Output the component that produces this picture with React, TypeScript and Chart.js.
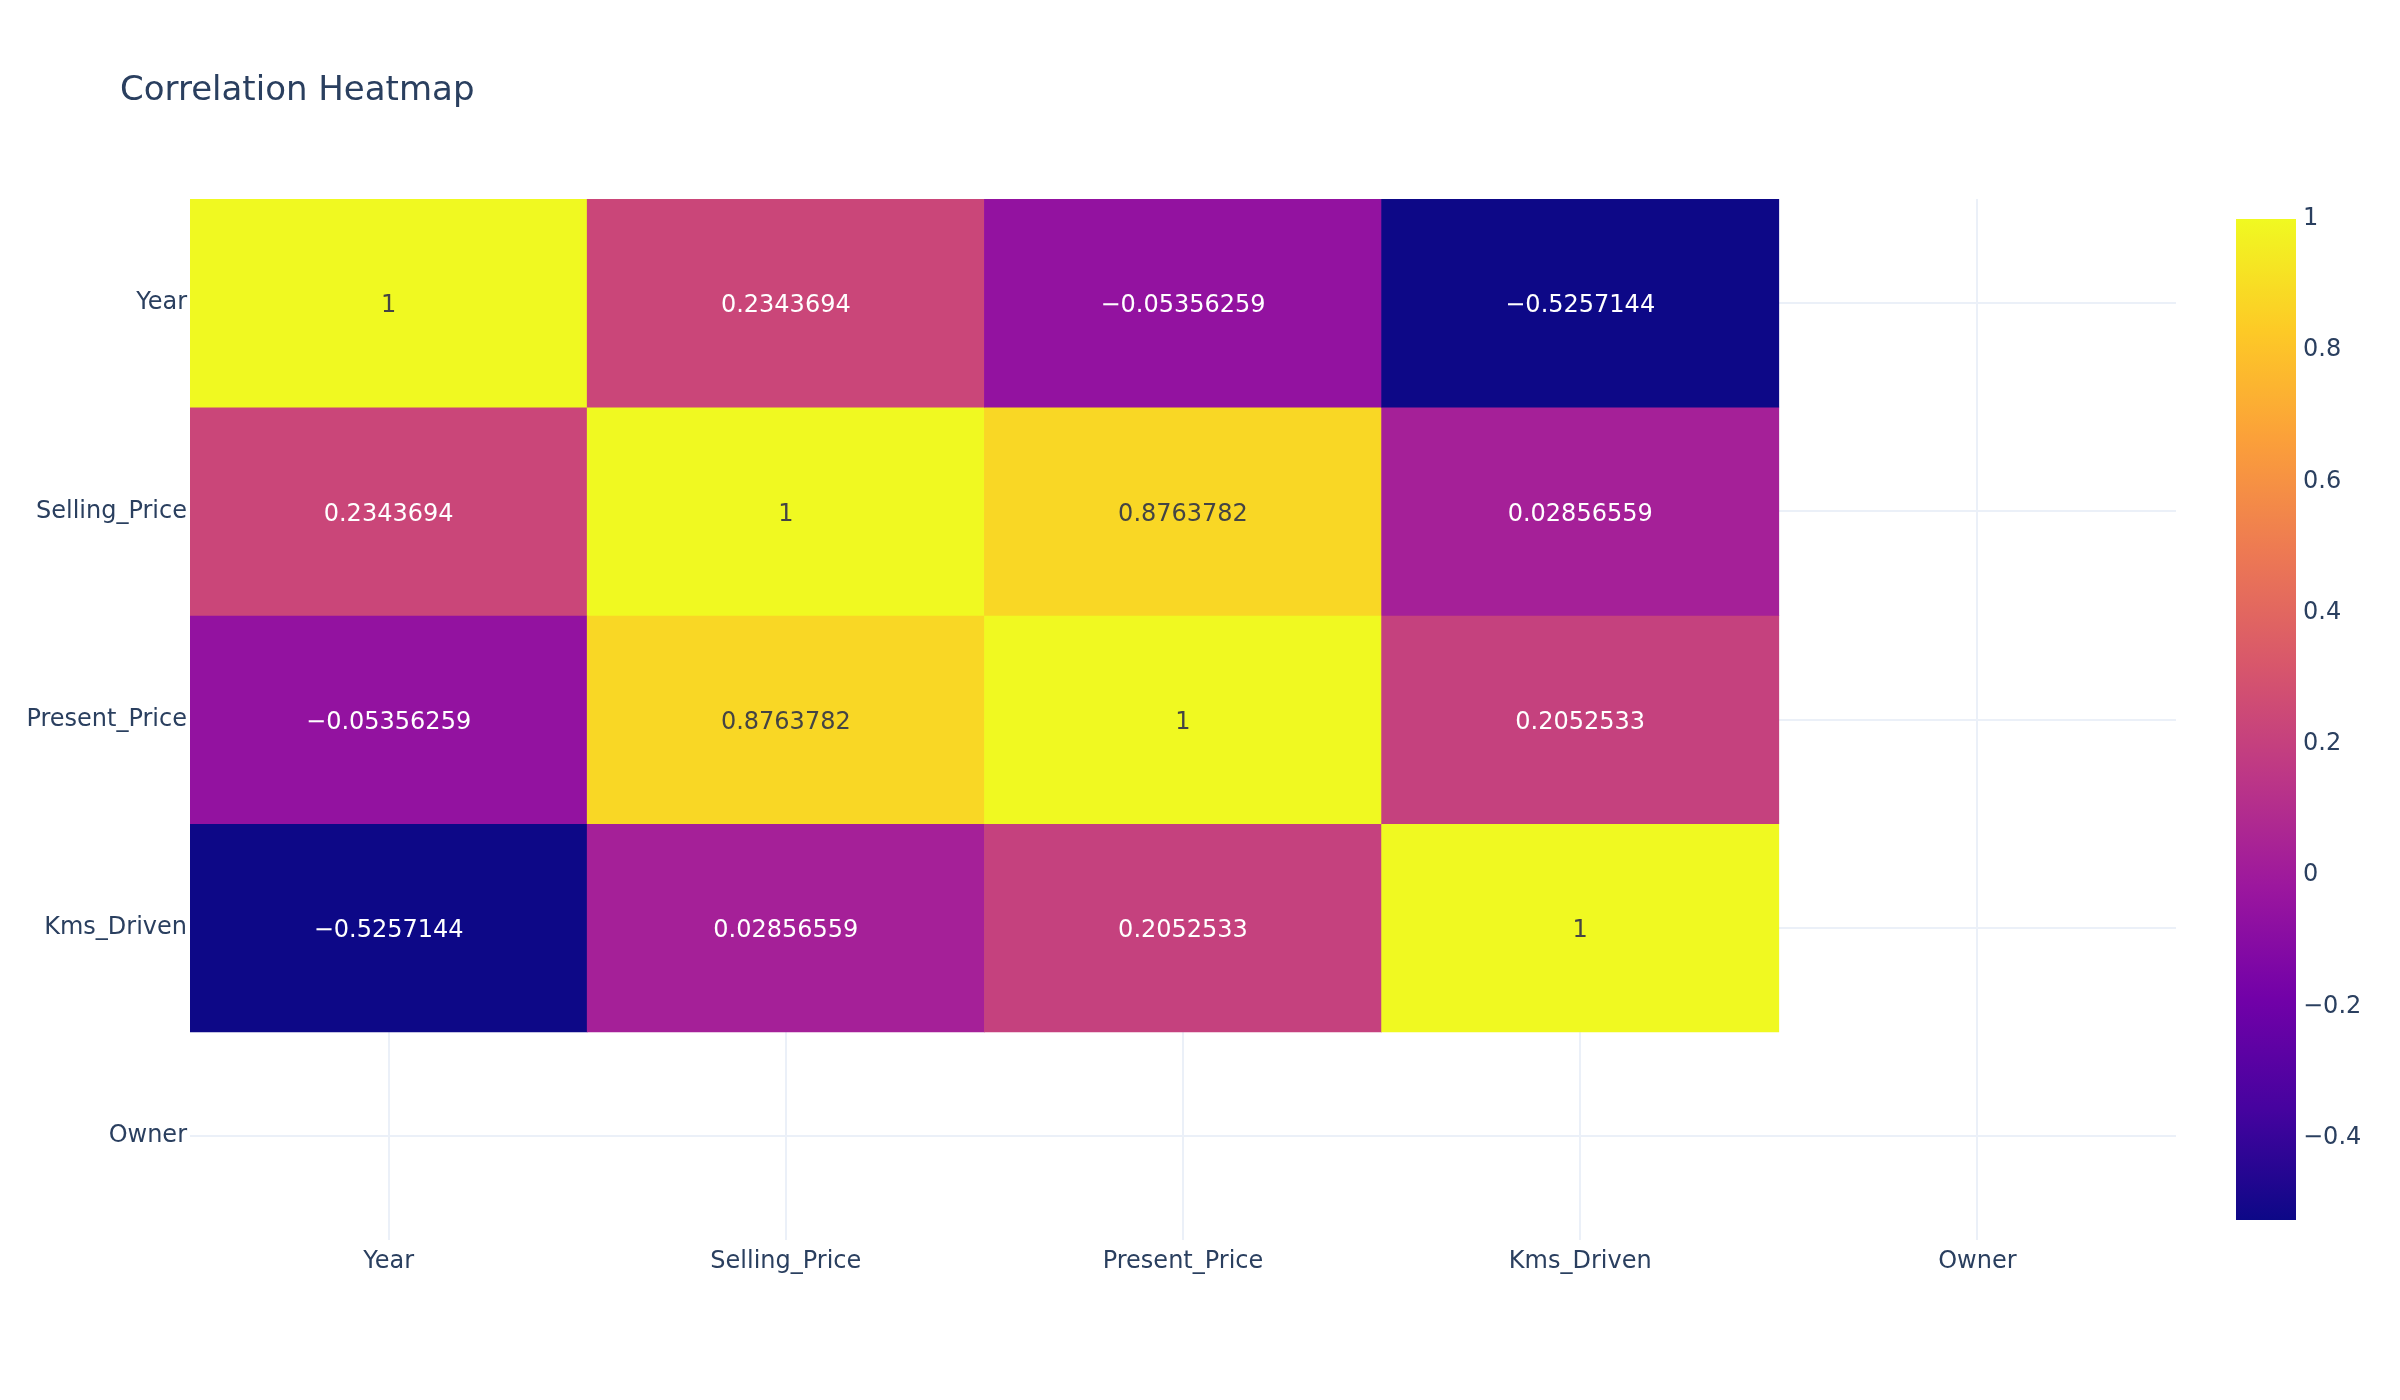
import { useEffect, useRef } from 'react';
import { Chart, registerables } from 'chart.js';

Chart.register(...registerables);

const TITLE = 'Correlation Heatmap';
const columns = ['Year', 'Selling_Price', 'Present_Price', 'Kms_Driven', 'Owner'];
const rows = ['Year', 'Selling_Price', 'Present_Price', 'Kms_Driven', 'Owner'];

const yearRow = [1, 0.2343694, -0.05356259, -0.5257144, null];
const sellingPriceRow = [0.2343694, 1, 0.8763782, 0.02856559, null];
const presentPriceRow = [-0.05356259, 0.8763782, 1, 0.2052533, null];
const kmsDrivenRow = [-0.5257144, 0.02856559, 0.2052533, 1, null];
const ownerRow = [null, null, null, null, null];
const matrix: (number | null)[][] = [yearRow, sellingPriceRow, presentPriceRow, kmsDrivenRow, ownerRow];

const colorbarTicks = [-0.4, -0.2, 0, 0.2, 0.4, 0.6, 0.8, 1];
const plasma = ['#0d0887', '#46039f', '#7201a8', '#9c179e', '#bd3786', '#d8576b', '#ed7953', '#fb9f3a', '#fdca26', '#f0f921'];

const FONT = '"DejaVu Sans", verdana, arial, sans-serif';
const TEXT_COLOR = '#2a3f5f';
const GRID_COLOR = '#EBF0F8';

const allVals = matrix.flat().filter((v) => v != null) as number[];
const zmin = Math.min(...allVals);
const zmax = Math.max(...allVals);

function hexToRgb(h: string) {
  const n = parseInt(h.slice(1), 16);
  return [(n >> 16) & 255, (n >> 8) & 255, n & 255];
}
function rgbAt(v: number) {
  let t = (v - zmin) / (zmax - zmin);
  t = Math.max(0, Math.min(1, t));
  const pos = t * (plasma.length - 1);
  const i = Math.min(Math.floor(pos), plasma.length - 2);
  const f = pos - i;
  const a = hexToRgb(plasma[i]);
  const b = hexToRgb(plasma[i + 1]);
  return a.map((c, k) => Math.round(c + (b[k] - c) * f));
}
function colorAt(v: number) {
  const [r, g, b] = rgbAt(v);
  return `rgb(${r},${g},${b})`;
}
function textColorFor(v: number) {
  const [r, g, b] = rgbAt(v);
  const brightness = (r * 299 + g * 587 + b * 114) / 1000;
  return brightness < 128 ? '#ffffff' : '#444444';
}
function fmt(v: number) {
  return v < 0 ? '\u2212' + String(Math.abs(v)) : String(v);
}

const cellLabelPlugin = {
  id: 'cellLabels',
  afterDatasetsDraw(chart: any) {
    const ctx = chart.ctx;
    ctx.save();
    ctx.font = `24px ${FONT}`;
    ctx.textAlign = 'center';
    ctx.textBaseline = 'middle';
    chart.data.datasets.forEach((_ds: any, di: number) => {
      const meta = chart.getDatasetMeta(di);
      meta.data.forEach((el: any, j: number) => {
        const v = matrix[di][j];
        if (v == null) return;
        const p = el.getCenterPoint();
        ctx.fillStyle = textColorFor(v);
        ctx.fillText(fmt(v), p.x, p.y + 3);
      });
    });
    ctx.restore();
  },
  afterDraw(chart: any) {
    const ctx = chart.ctx;
    ctx.save();
    ctx.font = `34px ${FONT}`;
    ctx.fillStyle = TEXT_COLOR;
    ctx.textAlign = 'left';
    ctx.textBaseline = 'alphabetic';
    ctx.fillText(TITLE, 120, 100);
    ctx.restore();
  },
};

export default function App() {
  const mainRef = useRef<HTMLCanvasElement>(null);
  const cbRef = useRef<HTMLCanvasElement>(null);

  useEffect(() => {
    const datasets = matrix.map((row, r) => ({
      label: rows[r],
      data: row.map((v) => (v == null ? null : [r - 0.5, r + 0.5])) as any,
      backgroundColor: row.map((v) => (v == null ? 'rgba(0,0,0,0)' : colorAt(v))),
      borderWidth: 0,
      grouped: false,
      barPercentage: 1,
      categoryPercentage: 1,
    }));

    const main = new Chart(mainRef.current!, {
      type: 'bar',
      data: { labels: columns, datasets },
      plugins: [cellLabelPlugin],
      options: {
        responsive: false,
        animation: false,
        devicePixelRatio: 1,
        layout: { padding: { top: 199, right: 224, left: 0, bottom: 0 } },
        plugins: { legend: { display: false }, tooltip: { enabled: false }, title: { display: false } },
        scales: {
          x: {
            type: 'category',
            offset: true,
            grid: { offset: false, color: GRID_COLOR, lineWidth: 2, drawTicks: false },
            border: { display: false },
            ticks: { color: TEXT_COLOR, font: { family: FONT, size: 24 }, padding: 7, maxRotation: 0 },
            afterFit(s: any) { s.height = 160; },
          },
          y: {
            type: 'linear',
            min: -0.5,
            max: 4.5,
            reverse: true,
            grid: { color: GRID_COLOR, lineWidth: 2, drawTicks: false },
            border: { display: false },
            afterBuildTicks(s: any) { s.ticks = rows.map((_, i) => ({ value: i })); },
            ticks: {
              color: TEXT_COLOR,
              font: { family: FONT, size: 24 },
              padding: 3,
              callback: (v: any) => rows[Math.round(Number(v))] ?? '',
            },
            afterFit(s: any) { s.width = 190; },
          },
        },
      } as any,
    });

    const cb = new Chart(cbRef.current!, {
      type: 'bar',
      data: {
        labels: ['colorbar'],
        datasets: [{
          data: [[zmin, zmax]] as any,
          backgroundColor: (c: any) => {
            const chart = c.chart;
            if (!chart.chartArea) return plasma[0];
            const ys = chart.scales.y;
            const g = chart.ctx.createLinearGradient(0, ys.getPixelForValue(zmin), 0, ys.getPixelForValue(zmax));
            plasma.forEach((col, i) => g.addColorStop(i / (plasma.length - 1), col));
            return g;
          },
          borderWidth: 0,
          barPercentage: 1,
          categoryPercentage: 1,
        }],
      },
      options: {
        responsive: false,
        animation: false,
        devicePixelRatio: 1,
        layout: { padding: { top: 219, bottom: 180, left: 0, right: 0 } },
        plugins: { legend: { display: false }, tooltip: { enabled: false } },
        scales: {
          x: { display: false, offset: true },
          y: {
            type: 'linear',
            position: 'right',
            min: zmin,
            max: zmax,
            grid: { display: false, drawTicks: false },
            border: { display: false },
            afterBuildTicks(s: any) { s.ticks = colorbarTicks.map((v) => ({ value: v })); },
            ticks: {
              color: TEXT_COLOR,
              font: { family: FONT, size: 24 },
              padding: 7,
              callback: (v: any) => fmt(Number(v)),
            },
            afterFit(s: any) { s.width = 104; },
          },
        },
      } as any,
    });

    return () => {
      main.destroy();
      cb.destroy();
    };
  }, []);

  return (
    <div style={{ position: 'absolute', left: 0, top: 0, width: 2400, height: 1400, background: '#fff' }}>
      <canvas ref={mainRef} width={2400} height={1400} style={{ position: 'absolute', left: 0, top: 0, width: 2400, height: 1400 }} />
      <canvas ref={cbRef} width={164} height={1400} style={{ position: 'absolute', left: 2236, top: 0, width: 164, height: 1400 }} />
    </div>
  );
}
